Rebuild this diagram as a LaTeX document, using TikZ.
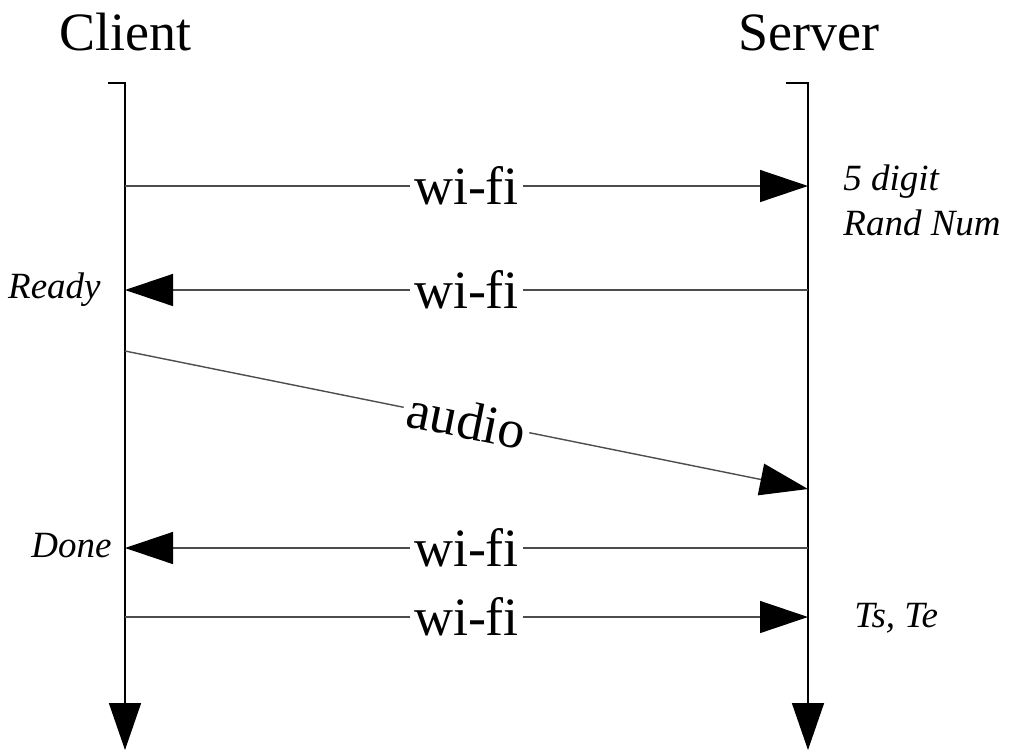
\documentclass[tikz,border=0pt]{standalone}
\usepackage{fontspec}
\setmainfont{Liberation Serif}
\usetikzlibrary{arrows.meta}
\definecolor{ink}{HTML}{000000}
\definecolor{wire}{HTML}{4D4D4D}
\tikzset{
  actor/.style={font=\fontsize{27}{30}\selectfont,anchor=base,inner sep=0pt},
  lifeline/.style={draw=ink,line width=0.8pt,-{Triangle[length=23.5pt,width=16pt]}},
  msg/.style={draw=wire,line width=0.7pt,-{Triangle[length=24pt,width=16pt,color=ink]}},
  chan/.style={fill=white,font=\fontsize{27}{30}\selectfont,inner sep=2pt},
  note/.style={font=\fontsize{18.5}{22.5}\selectfont\itshape,inner sep=0pt,align=left},
}

\begin{document}
\begin{tikzpicture}[x=0.5pt,y=-0.5pt]
    \useasboundingbox (0,0) rectangle (1009,751);
    % the two parties
    \node[actor] (client) at (125,50) {Client};
    \node[actor] (server) at (809,50) {Server};
    \coordinate (cTick) at (108,83);
    \coordinate (cTop) at (125,83);
    \coordinate (cEnd) at (125,750);
    \coordinate (sTick) at (786,83);
    \coordinate (sTop) at (808,83);
    \coordinate (sEnd) at (808,750);
    \draw[lifeline] (cTick) -- (cTop) -- (cEnd);
    \draw[lifeline] (sTick) -- (sTop) -- (sEnd);
    % message ends on each lifeline
    \coordinate (c1) at (125,186);  \coordinate (s1) at (808,186);
    \coordinate (c2) at (125,290);  \coordinate (s2) at (808,290);
    \coordinate (c3) at (125,351);  \coordinate (s3) at (808,489);
    \coordinate (c4) at (125,548);  \coordinate (s4) at (808,548);
    \coordinate (c5) at (125,617);  \coordinate (s5) at (808,617);
    \draw[msg] (c1) -- node[chan] (m1) {wi-fi} (s1);
    \draw[msg] (s2) -- node[chan] (m2) {wi-fi} (c2);
    \draw[msg] (c3) -- node[chan,sloped] (m3) {audio} (s3);
    \draw[msg] (s4) -- node[chan] (m4) {wi-fi} (c4);
    \draw[msg] (c5) -- node[chan] (m5) {wi-fi} (s5);
    % side notes
    \node[note,anchor=north west] (rnd) at (843,164) {5 digit\\Rand Num};
    \node[note,anchor=east] (ready) at (101,290) {Ready};
    \node[note,anchor=east] (done) at (112,546) {Done};
    \node[note,anchor=west] (ts) at (854,618) {Ts,\ Te};
  \end{tikzpicture}
\end{document}
